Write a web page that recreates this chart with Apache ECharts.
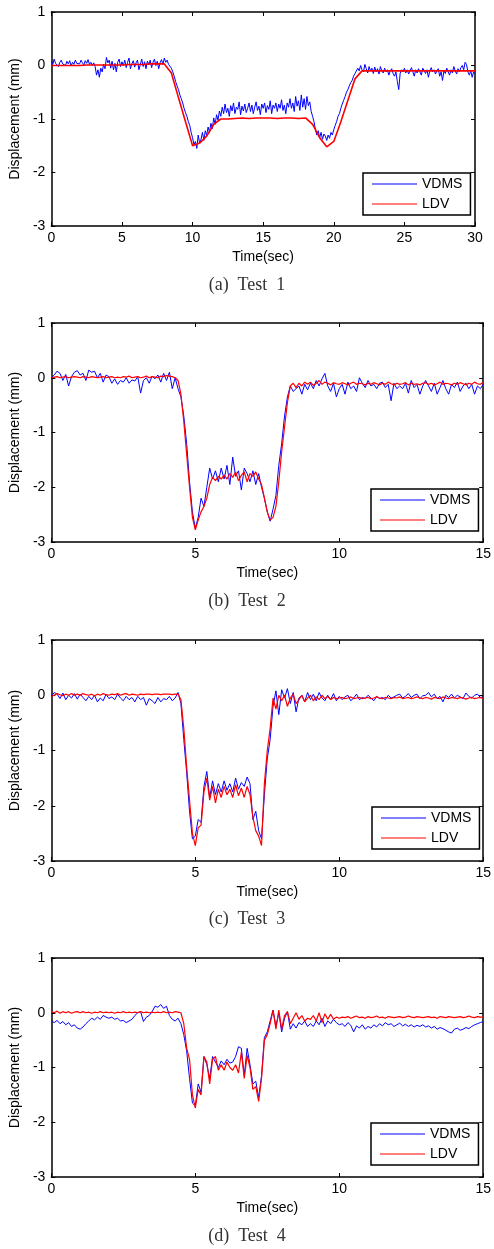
<!DOCTYPE html>
<html>
<head>
<meta charset="utf-8">
<script src="https://cdn.jsdelivr.net/npm/echarts@6/dist/echarts.min.js"></script>
<style>
  html, body { margin: 0; padding: 0; background: #fff; }
  #main { width: 494px; height: 1249px; }
</style>
</head>
<body>
<div id="main"></div>
<script>
// 시험별 변위 데이터 (mm)
var yTicks = [-3, -2, -1, 0, 1];
var captions = ['(a)  Test  1', '(b)  Test  2', '(c)  Test  3', '(d)  Test  4'];
var xMaxList = [30, 15, 15, 15];

// Test 1 : VDMS 0.1 s 간격, LDV 0.5 s 간격
var vdms1Step = 0.1;
var vdms1 = [
  0.08,0.02,0.12,0.04,0.07,-0.02,0.06,0.1,0.03,0.05,
  0.0,0.08,0.03,0.09,-0.01,0.06,0.02,0.1,0.04,0.07,
  0.03,0.1,0.05,0.01,0.09,0.04,0.11,0.02,0.06,0.0,
  0.05,-0.02,-0.18,-0.08,-0.22,-0.05,-0.12,0.02,-0.06,0.15,
  0.05,0.1,-0.05,0.08,-0.08,0.04,-0.12,0.06,0.12,-0.02,
  0.07,0.0,0.1,-0.04,0.06,0.14,-0.06,0.03,0.09,-0.03,
  0.05,0.1,-0.08,0.02,0.12,-0.02,0.07,-0.06,0.08,0.02,
  0.1,-0.04,0.06,0.12,0.0,0.08,-0.06,0.05,0.11,0.02,
  0.14,0.06,0.1,0.02,0.05,-0.05,-0.12,-0.2,-0.3,-0.38,
  -0.45,-0.55,-0.62,-0.7,-0.8,-0.88,-0.95,-1.05,-1.12,-1.25,
  -1.35,-1.48,-1.42,-1.55,-1.3,-1.45,-1.38,-1.25,-1.4,-1.22,
  -1.3,-1.15,-1.25,-1.08,-1.18,-0.98,-1.1,-0.92,-1.02,-0.85,
  -0.95,-0.78,-0.9,-0.72,-0.88,-0.8,-0.95,-0.75,-0.85,-0.7,
  -0.9,-0.78,-0.82,-0.68,-0.92,-0.76,-0.85,-0.72,-0.88,-0.8,
  -0.7,-0.86,-0.74,-0.9,-0.78,-0.68,-0.84,-0.76,-0.92,-0.72,
  -0.8,-0.7,-0.88,-0.75,-0.82,-0.66,-0.9,-0.74,-0.8,-0.7,
  -0.86,-0.72,-0.8,-0.64,-0.84,-0.74,-0.9,-0.7,-0.78,-0.62,
  -0.8,-0.7,-0.86,-0.58,-0.76,-0.66,-0.84,-0.55,-0.78,-0.62,
  -0.82,-0.58,-0.75,-0.68,-0.86,-0.95,-1.05,-1.2,-1.3,-1.22,
  -1.35,-1.25,-1.38,-1.28,-1.32,-1.4,-1.3,-1.36,-1.25,-1.3,
  -1.2,-1.12,-1.05,-0.95,-0.9,-0.8,-0.72,-0.65,-0.58,-0.5,
  -0.45,-0.38,-0.32,-0.28,-0.2,-0.15,-0.12,-0.05,-0.1,0.0,
  -0.08,-0.12,0.02,-0.06,-0.14,-0.02,-0.1,-0.05,-0.15,-0.03,
  -0.12,-0.06,-0.16,-0.02,-0.1,-0.14,-0.05,-0.12,-0.08,-0.18,
  -0.1,-0.06,-0.15,-0.2,-0.12,-0.3,-0.45,-0.15,-0.08,-0.12,
  -0.05,-0.14,-0.08,-0.16,-0.1,-0.04,-0.12,-0.2,-0.08,-0.14,
  -0.06,-0.12,-0.18,-0.05,-0.1,-0.15,-0.08,-0.22,-0.1,-0.04,
  -0.12,-0.08,-0.16,-0.1,-0.06,-0.2,-0.12,-0.28,-0.1,-0.15,
  -0.05,-0.12,-0.18,-0.08,-0.14,-0.02,-0.1,-0.16,-0.06,-0.12,
  -0.04,0.0,-0.08,0.06,0.02,-0.12,-0.18,-0.1,-0.22,-0.12,
  -0.15
];
var ldv1Step = 0.5;
var ldv1 = [
  0,0,0,0,0,0.01,0.01,0.01,0.01,0.01,
  0.01,0.02,0.02,0.02,0.03,0.03,0.03,-0.14,-0.6,-1.05,
  -1.5,-1.45,-1.32,-1.1,-1.0,-1.0,-0.99,-0.98,-0.99,-0.98,
  -0.98,-0.98,-0.99,-0.98,-0.98,-0.99,-0.98,-1.1,-1.35,-1.52,
  -1.42,-1.05,-0.65,-0.25,-0.1,-0.1,-0.1,-0.1,-0.1,-0.1,
  -0.1,-0.1,-0.1,-0.1,-0.1,-0.1,-0.1,-0.1,-0.1,-0.1,
  -0.1
];

// Test 2 : 0.1 s 간격
var test2Step = 0.1;
var vdms2 = [
  0.0,0.05,0.12,0.08,-0.05,0.06,-0.15,0.02,0.1,0.13,
  0.05,0.08,-0.05,0.14,0.1,0.12,0.0,0.08,-0.08,0.05,
  0.02,-0.1,-0.02,-0.12,-0.05,-0.08,0.0,-0.1,-0.04,-0.06,
  0.02,-0.28,-0.05,0.0,-0.1,0.03,-0.02,0.05,-0.08,0.08,
  -0.05,0.1,-0.2,0.0,-0.2,-0.35,-0.7,-1.2,-1.9,-2.45,
  -2.75,-2.55,-2.2,-2.35,-2.0,-1.65,-1.85,-1.7,-1.9,-1.65,
  -1.85,-1.6,-1.95,-1.45,-1.8,-1.7,-2.05,-1.65,-1.75,-1.9,
  -1.7,-1.95,-1.75,-2.0,-2.2,-2.45,-2.62,-2.4,-2.15,-1.6,
  -1.2,-0.7,-0.35,-0.15,-0.25,-0.2,-0.15,-0.3,-0.12,-0.22,
  -0.1,-0.2,-0.05,-0.15,-0.02,0.08,-0.15,-0.25,-0.1,-0.35,
  -0.2,-0.12,-0.3,-0.08,-0.2,-0.15,-0.25,0.0,-0.1,-0.18,
  -0.05,-0.15,-0.12,-0.2,-0.1,-0.08,-0.18,-0.12,-0.42,-0.1,
  -0.2,-0.15,-0.2,-0.1,-0.28,-0.05,-0.18,-0.12,-0.3,-0.15,
  -0.05,-0.15,-0.25,-0.1,-0.3,-0.18,-0.05,-0.2,-0.3,-0.12,
  -0.18,-0.08,-0.25,-0.15,-0.1,-0.2,-0.12,-0.3,-0.15,-0.2,
  -0.12
];
var ldv2 = [
  0.0,0.01,0.02,0.0,0.01,0.02,0.0,0.01,0.02,0.01,
  0.0,0.02,0.01,0.0,0.02,0.01,0.0,0.01,0.02,0.0,
  0.01,0.02,0.0,0.01,0.0,0.02,0.01,0.03,0.0,0.01,
  0.02,0.0,0.01,0.03,0.0,0.02,0.01,0.0,0.03,0.02,
  0.04,0.03,0.02,0.0,-0.05,-0.3,-0.8,-1.4,-2.0,-2.55,
  -2.78,-2.6,-2.45,-2.35,-2.2,-1.95,-1.82,-1.88,-1.8,-1.85,
  -1.78,-1.85,-1.75,-1.82,-1.72,-1.88,-1.78,-1.72,-1.9,-1.75,
  -1.8,-1.72,-1.85,-1.95,-2.2,-2.45,-2.6,-2.55,-2.35,-1.9,
  -1.35,-0.9,-0.45,-0.15,-0.1,-0.18,-0.1,-0.15,-0.08,-0.12,
  -0.08,-0.14,-0.1,-0.05,-0.12,-0.08,-0.1,-0.13,-0.09,-0.11,
  -0.12,-0.09,-0.11,-0.13,-0.1,-0.08,-0.12,-0.1,-0.11,-0.13,
  -0.1,-0.12,-0.09,-0.11,-0.13,-0.1,-0.12,-0.08,-0.11,-0.13,
  -0.1,-0.12,-0.11,-0.09,-0.13,-0.1,-0.12,-0.11,-0.13,-0.1,
  -0.09,-0.12,-0.1,-0.13,-0.11,-0.08,-0.12,-0.1,-0.11,-0.13,
  -0.1,-0.12,-0.09,-0.11,-0.13,-0.1,-0.12,-0.08,-0.11,-0.12,
  -0.08
];

// Test 3 : 0.1 s 간격
var test3Step = 0.1;
var vdms3 = [
  -0.02,0.05,0.02,-0.06,0.04,-0.08,0.0,-0.05,0.03,-0.07,
  0.02,-0.04,-0.1,-0.02,-0.08,0.0,-0.12,-0.05,-0.1,0.02,
  -0.06,-0.03,-0.08,0.02,-0.05,-0.1,-0.02,-0.08,-0.04,-0.12,
  -0.02,-0.08,-0.04,-0.18,-0.06,-0.1,-0.15,-0.04,-0.12,-0.06,
  -0.08,-0.02,-0.1,-0.05,0.05,-0.15,-0.8,-1.4,-2.1,-2.6,
  -2.55,-2.25,-2.3,-1.65,-1.38,-1.85,-1.55,-1.8,-1.6,-1.75,
  -1.55,-1.72,-1.6,-1.75,-1.5,-1.7,-1.58,-1.65,-1.48,-1.6,
  -2.25,-2.1,-2.45,-2.6,-1.8,-1.15,-0.8,-0.2,0.08,-0.35,
  0.1,-0.05,0.12,-0.15,0.05,-0.3,-0.05,0.0,-0.12,0.05,
  -0.08,0.02,-0.1,0.05,-0.05,-0.1,0.0,-0.08,0.03,-0.1,
  -0.02,-0.08,-0.03,0.0,-0.1,-0.05,0.02,-0.08,-0.04,-0.06,
  0.0,-0.05,-0.1,-0.02,-0.06,-0.04,-0.08,0.0,-0.05,-0.03,
  0.0,0.02,-0.05,-0.02,0.03,-0.04,0.0,0.02,-0.06,-0.01,
  0.0,0.05,-0.03,0.02,-0.06,-0.02,-0.12,0.0,-0.04,0.02,
  -0.05,0.0,-0.03,-0.06,0.04,-0.02,-0.05,0.0,0.02,-0.04,
  -0.03
];
var ldv3 = [
  -0.02,0.0,0.03,0.01,-0.01,0.02,0.0,0.03,0.0,0.02,
  0.0,0.03,0.01,0.0,0.02,-0.01,0.02,0.0,0.03,0.01,
  0.0,0.02,0.01,0.03,0.0,0.02,0.03,0.0,0.02,0.01,
  0.0,0.02,0.01,0.02,0.02,0.01,0.02,0.02,0.01,0.02,
  0.02,0.02,0.01,0.02,0.02,-0.08,-0.6,-1.3,-1.9,-2.5,
  -2.72,-2.4,-2.35,-1.75,-1.5,-1.9,-1.65,-1.95,-1.7,-1.85,
  -1.65,-1.8,-1.7,-1.85,-1.62,-1.82,-1.68,-1.85,-1.65,-1.8,
  -2.2,-2.45,-2.55,-2.72,-1.6,-1.0,-0.6,-0.05,-0.25,0.0,
  -0.1,0.0,-0.2,-0.05,0.02,-0.15,-0.08,0.0,-0.12,-0.05,
  0.0,-0.1,-0.03,-0.08,0.0,-0.06,-0.02,-0.08,-0.04,-0.06,
  -0.05,-0.04,-0.06,-0.05,-0.03,-0.06,-0.05,-0.04,-0.06,-0.05,
  -0.04,-0.06,-0.05,-0.03,-0.05,-0.06,-0.04,-0.05,-0.06,-0.04,
  -0.05,-0.03,-0.06,-0.05,-0.04,-0.06,-0.05,-0.03,-0.05,-0.06,
  -0.04,-0.05,-0.07,-0.04,-0.05,-0.06,-0.03,-0.05,-0.06,-0.04,
  -0.05,-0.06,-0.04,-0.05,-0.07,-0.05,-0.04,-0.06,-0.05,-0.04,
  -0.06
];

// Test 4 : 0.1 s 간격
var test4Step = 0.1;
var vdms4 = [
  -0.15,-0.18,-0.14,-0.2,-0.16,-0.22,-0.18,-0.25,-0.22,-0.28,
  -0.3,-0.26,-0.2,-0.15,-0.1,-0.13,-0.08,-0.12,-0.05,-0.08,
  -0.1,-0.08,-0.12,-0.1,-0.15,-0.14,-0.18,-0.15,-0.12,-0.05,
  0.0,0.02,-0.16,-0.08,-0.05,0.02,0.12,0.1,0.15,0.08,
  0.12,-0.05,-0.12,-0.15,-0.1,-0.2,-0.4,-0.7,-1.2,-1.65,
  -1.7,-1.3,-1.45,-0.8,-0.95,-1.2,-0.8,-0.9,-1.0,-0.88,
  -0.95,-0.85,-0.92,-0.9,-0.8,-0.62,-0.65,-1.15,-0.65,-0.95,
  -1.3,-1.25,-1.55,-1.15,-0.45,-0.35,-0.15,0.05,-0.25,0.0,
  -0.35,-0.1,0.02,-0.3,-0.2,-0.28,-0.18,-0.22,-0.15,-0.25,
  -0.2,-0.25,-0.15,-0.22,-0.1,-0.25,-0.15,-0.2,-0.12,-0.18,
  -0.22,-0.2,-0.25,-0.18,-0.23,-0.35,-0.24,-0.28,-0.22,-0.3,
  -0.25,-0.28,-0.22,-0.26,-0.2,-0.24,-0.18,-0.22,-0.2,-0.25,
  -0.22,-0.19,-0.24,-0.21,-0.25,-0.22,-0.26,-0.23,-0.25,-0.22,
  -0.26,-0.24,-0.28,-0.25,-0.3,-0.27,-0.29,-0.32,-0.35,-0.37,
  -0.3,-0.28,-0.32,-0.3,-0.27,-0.29,-0.25,-0.22,-0.2,-0.18,
  -0.16
];
var ldv4 = [
  0.02,0.0,0.03,-0.01,0.02,0.0,0.02,-0.01,0.01,0.02,
  0.0,0.02,0.0,0.01,-0.01,0.01,0.0,0.02,0.0,0.01,
  0.0,0.01,-0.01,0.01,0.0,0.02,0.0,0.01,0.0,0.01,
  0.0,0.02,0.0,0.01,0.0,0.01,0.0,0.01,0.0,0.02,
  0.0,0.01,0.0,0.02,0.01,0.0,-0.2,-0.65,-0.85,-1.5,
  -1.74,-1.4,-1.5,-0.8,-0.9,-1.3,-0.85,-0.8,-1.05,-0.95,
  -1.05,-0.9,-1.0,-1.05,-0.95,-1.1,-0.72,-1.2,-0.78,-1.0,
  -1.4,-1.35,-1.62,-1.2,-0.5,-0.4,-0.2,0.05,-0.3,0.05,
  -0.3,-0.05,0.02,-0.2,-0.1,0.0,-0.12,-0.05,-0.15,-0.1,
  -0.12,-0.05,-0.15,0.0,-0.18,-0.02,-0.12,-0.03,-0.12,-0.08,
  -0.1,-0.08,-0.09,-0.07,-0.1,-0.08,-0.06,-0.09,-0.08,-0.1,
  -0.07,-0.09,-0.08,-0.06,-0.09,-0.08,-0.1,-0.07,-0.08,-0.09,
  -0.08,-0.07,-0.09,-0.08,-0.06,-0.08,-0.09,-0.07,-0.08,-0.09,
  -0.08,-0.07,-0.09,-0.08,-0.1,-0.07,-0.08,-0.09,-0.07,-0.08,
  -0.09,-0.08,-0.07,-0.09,-0.08,-0.06,-0.08,-0.09,-0.07,-0.08,
  -0.08
];

//시간축과 값 묶기
function toPairs(step, vals) {
  return vals.map(function (v, i) { return [Math.round(i * step * 100) / 100, v]; });
}

var chart = echarts.init(document.getElementById('main'), null, { renderer: 'canvas' });

var grids = [
  { left: 48, top: 12, width: 427, height: 214 },
  { left: 46, top: 323, width: 439, height: 219 },
  { left: 47, top: 640, width: 440, height: 221 },
  { left: 48, top: 958, width: 436, height: 219 }
];
var legendPos = [
  { left: 363, top: 173 },
  { left: 371, top: 489 },
  { left: 372, top: 807 },
  { left: 371, top: 1123 }
];
var captionTop = [276, 592, 910, 1227];

var seriesData = [
  [toPairs(vdms1Step, vdms1), toPairs(ldv1Step, ldv1)],
  [toPairs(test2Step, vdms2), toPairs(test2Step, ldv2)],
  [toPairs(test3Step, vdms3), toPairs(test3Step, ldv3)],
  [toPairs(test4Step, vdms4), toPairs(test4Step, ldv4)]
];

var font = 'Liberation Sans';
var xAxes = [], yAxes = [], series = [], legends = [], graphics = [];

grids.forEach(function (g, i) {
  var tick = { inside: true, length: 4, lineStyle: { color: '#000', width: 1 } };
  var line = { show: true, onZero: false, lineStyle: { color: '#000', width: 1.5 } };
  xAxes.push({
    gridIndex: i, type: 'value', min: 0, max: xMaxList[i], interval: 5, position: 'bottom',
    axisLine: line, axisTick: tick, splitLine: { show: false },
    axisLabel: { color: '#000', fontSize: 14, fontFamily: font, margin: 5, showMinLabel: true, showMaxLabel: true },
    name: 'Time(sec)', nameLocation: 'middle', nameGap: 24,
    nameTextStyle: { color: '#000', fontSize: 14, fontFamily: font }
  });
  xAxes.push({
    gridIndex: i, type: 'value', min: 0, max: xMaxList[i], interval: 5, position: 'top',
    axisLine: line, axisTick: tick, axisLabel: { show: false }, splitLine: { show: false }
  });
  yAxes.push({
    gridIndex: i, type: 'value', min: yTicks[0], max: yTicks[yTicks.length - 1], interval: 1, position: 'left',
    axisLine: line, axisTick: tick, splitLine: { show: false },
    axisLabel: { color: '#000', fontSize: 14, fontFamily: font, margin: 6, showMinLabel: true, showMaxLabel: true },
    name: 'Displacement (mm)', nameLocation: 'middle', nameGap: 27,
    nameTextStyle: { color: '#000', fontSize: 14, fontFamily: font }
  });
  yAxes.push({
    gridIndex: i, type: 'value', min: yTicks[0], max: yTicks[yTicks.length - 1], interval: 1, position: 'right',
    axisLine: line, axisTick: tick, axisLabel: { show: false }, splitLine: { show: false }
  });

  series.push({
    name: 'VDMS', type: 'line', xAxisIndex: i * 2, yAxisIndex: i * 2,
    data: seriesData[i][0], symbol: 'none', animation: false,
    lineStyle: { color: '#0000ff', width: 1 }, itemStyle: { color: '#0000ff' }
  });
  series.push({
    name: 'LDV', type: 'line', xAxisIndex: i * 2, yAxisIndex: i * 2,
    data: seriesData[i][1], symbol: 'none', animation: false,
    lineStyle: { color: '#ff0000', width: i === 0 ? 1.6 : 1.2 }, itemStyle: { color: '#ff0000' }
  });

  legends.push({
    data: ['VDMS', 'LDV'], orient: 'vertical', left: legendPos[i].left, top: legendPos[i].top,
    backgroundColor: '#fff', borderColor: '#000', borderWidth: 1.5,
    padding: [4, 8, 4, 9], itemGap: 6, itemWidth: 45, itemHeight: 14,
    icon: 'path://M0,6.4H45V7.6H0Z',
    selectedMode: false,
    textStyle: { color: '#000', fontSize: 14, fontFamily: font }
  });

  graphics.push({
    type: 'text', left: 'center', top: captionTop[i],
    style: { text: captions[i], font: '18px "Liberation Serif"', fill: '#333' }
  });
});

chart.setOption({
  animation: false,
  backgroundColor: '#fff',
  grid: grids,
  xAxis: xAxes,
  yAxis: yAxes,
  legend: legends,
  series: series,
  graphic: graphics
});
</script>
</body>
</html>
